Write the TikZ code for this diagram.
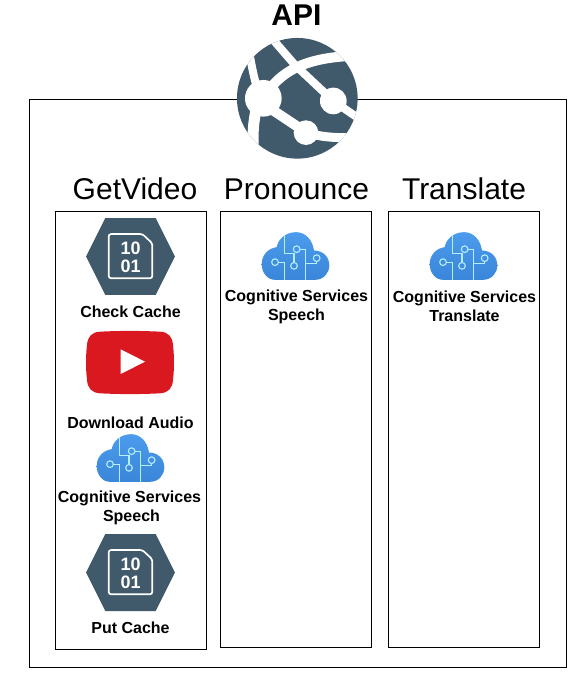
\documentclass[tikz,border=0pt]{standalone}
\usepackage{fontspec}
\setmainfont{Liberation Sans}
\definecolor{slateicon}{HTML}{40596B}
\definecolor{tubered}{HTML}{D9181F}
\definecolor{cloudtop}{HTML}{4C9BEC}
\definecolor{cloudbot}{HTML}{3A86DA}
\definecolor{circuit}{HTML}{B5EEFC}
\tikzset{
    panelbox/.style={draw=black,line width=1pt,fill=none,minimum width=151pt,inner sep=0pt},
    headlbl/.style={font=\fontsize{30}{32}\selectfont,inner sep=0pt},
    iconlbl/.style={font=\fontsize{16}{19}\selectfont\bfseries,align=center,inner sep=0pt},
    %% hexagon with a binary file
    pics/binhex/.style={code={
        \begin{scope}[x=0.3333pt,y=-0.3333pt,shift={(-211.5,-139.5)}]
            \fill[slateicon] (78,139.5) -- (136,24) -- (287,24) -- (345,139.5) -- (287,255) -- (136,255) -- cycle;
            \draw[white,line width=1.7pt,rounded corners=2.5pt] (146,72) -- (247,72) -- (277,100) -- (277,205) -- (146,205) -- cycle;
            \node[text=white,inner sep=0pt,font=\fontsize{18}{18}\selectfont\bfseries] (-hi) at (212,115) {10};
            \node[text=white,inner sep=0pt,font=\fontsize{18}{18}\selectfont\bfseries] (-lo) at (212,168) {01};
        \end{scope}
    }},
    %% cloud with circuit lines
    pics/cogcloud/.style={code={
        \begin{scope}[x=0.3333pt,y=-0.3333pt,shift={(-166.5,-108.5)}]
            \shade[top color=cloudtop,bottom color=cloudbot] (105,180) .. controls (82,180) and (65,158) .. (65,133)
                .. controls (65,105) and (85,85) .. (110,82)
                .. controls (115,55) and (140,37) .. (168,37)
                .. controls (195,37) and (217,58) .. (222,92)
                .. controls (250,92) and (268,112) .. (268,137)
                .. controls (268,160) and (250,180) .. (225,180) -- cycle;
            \draw[circuit,line width=1.1pt]
                (133,45) -- (133,100) -- (162,100) -- (162,129)
                (115,127) -- (133,127) -- (133,180)
                (179,88) -- (197,88) -- (197,180)
                (230,125) -- (230,131) -- (197,131);
            \foreach \x/\y in {105/127,162/138,170/88,230/115}
                \draw[circuit,line width=1.1pt] (\x,\y) circle (10);
        \end{scope}
    }},
    %% red play button
    pics/tubelogo/.style={code={
        \begin{scope}[x=0.3333pt,y=-0.3333pt,shift={(-210,-457.5)}]
            \fill[tubered] (120,365) .. controls (180,362) and (240,362) .. (300,365)
                .. controls (325,366) and (337,380) .. (339,405)
                .. controls (343,440) and (343,475) .. (339,510)
                .. controls (337,535) and (325,548) .. (300,550)
                .. controls (240,553) and (180,553) .. (120,550)
                .. controls (95,548) and (83,535) .. (81,510)
                .. controls (77,475) and (77,440) .. (81,405)
                .. controls (83,380) and (95,366) .. (120,365) -- cycle;
            \fill[white] (182,418) -- (255,455) -- (182,492) -- cycle;
        \end{scope}
    }},
    %% web globe
    pics/webglobe/.style={code={
        \begin{scope}[x=0.3333pt,y=-0.3333pt,shift={(-232,-235)}]
            \fill[slateicon] (232,235) circle (181);
            \begin{scope}
                \clip (232,235) circle (181);
                \draw[white,line width=8pt] (160,60) -- (225,135) -- (340,243) -- (420,298);
                \draw[white,line width=10pt] (130,235) .. controls (180,150) and (260,115) .. (390,108);
                \draw[white,line width=8pt] (88,100) .. controls (95,135) and (100,165) .. (110,200);
                \draw[white,line width=11pt] (108,270) .. controls (100,310) and (98,340) .. (100,380);
                \draw[white,line width=10pt] (150,265) -- (240,325);
                \draw[white,line width=9pt] (258,338) .. controls (300,350) and (340,355) .. (400,352);
                \fill[white] (130,235) circle (55);
                \fill[white] (340,243) circle (40);
                \fill[white] (258,338) circle (37);
            \end{scope}
        \end{scope}
    }}
}
\begin{document}
\begin{tikzpicture}[x=1pt,y=-1pt]
    \useasboundingbox (0,0) rectangle (588,680);
    %% frames
    \draw[line width=1pt] (29.5,99.5) rectangle (566.5,667.5);
    \node[panelbox,minimum height=438pt] (getvideo) at (131,430.5) {};
    \node[panelbox,minimum height=436pt] (pronounce) at (296,429.5) {};
    \node[panelbox,minimum height=436pt] (translate) at (464,429.5) {};
    %% headings
    \node[font=\fontsize{30}{32}\selectfont\bfseries,inner sep=0pt] (apilbl) at (296.5,15) {API};
    \foreach \x/\y in {135/GetVideo,296.5/Pronounce,464/Translate}
        \node[headlbl] (head\y) at (\x,189) {\y};
    %% icons
    \pic (globe) at (297.3,98.3) {webglobe};
    \pic (checkhex) at (130.5,256.5) {binhex};
    \pic (tube) at (130,362.5) {tubelogo};
    \pic (cloudone) at (130.5,458) {cogcloud};
    \pic (puthex) at (130.5,572.5) {binhex};
    \pic (cloudtwo) at (295.5,256) {cogcloud};
    \pic (cloudthree) at (463.5,256) {cogcloud};
    %% labels
    \node[iconlbl] (checklbl) at (130.5,312) {Check Cache};
    \node[iconlbl] (downlbl) at (130.5,423) {Download Audio};
    \node[iconlbl] (speechlbl) at (129.5,507.5) {Cognitive Services\\\hspace*{4pt}Speech};
    \node[iconlbl] (putlbl) at (130.5,628) {Put Cache};
    \node[iconlbl] (pronlbl) at (296.5,306.5) {Cognitive Services\\Speech};
    \node[iconlbl] (translbl) at (464.5,306.5) {Cognitive Services\\Translate};
\end{tikzpicture}
\end{document}
